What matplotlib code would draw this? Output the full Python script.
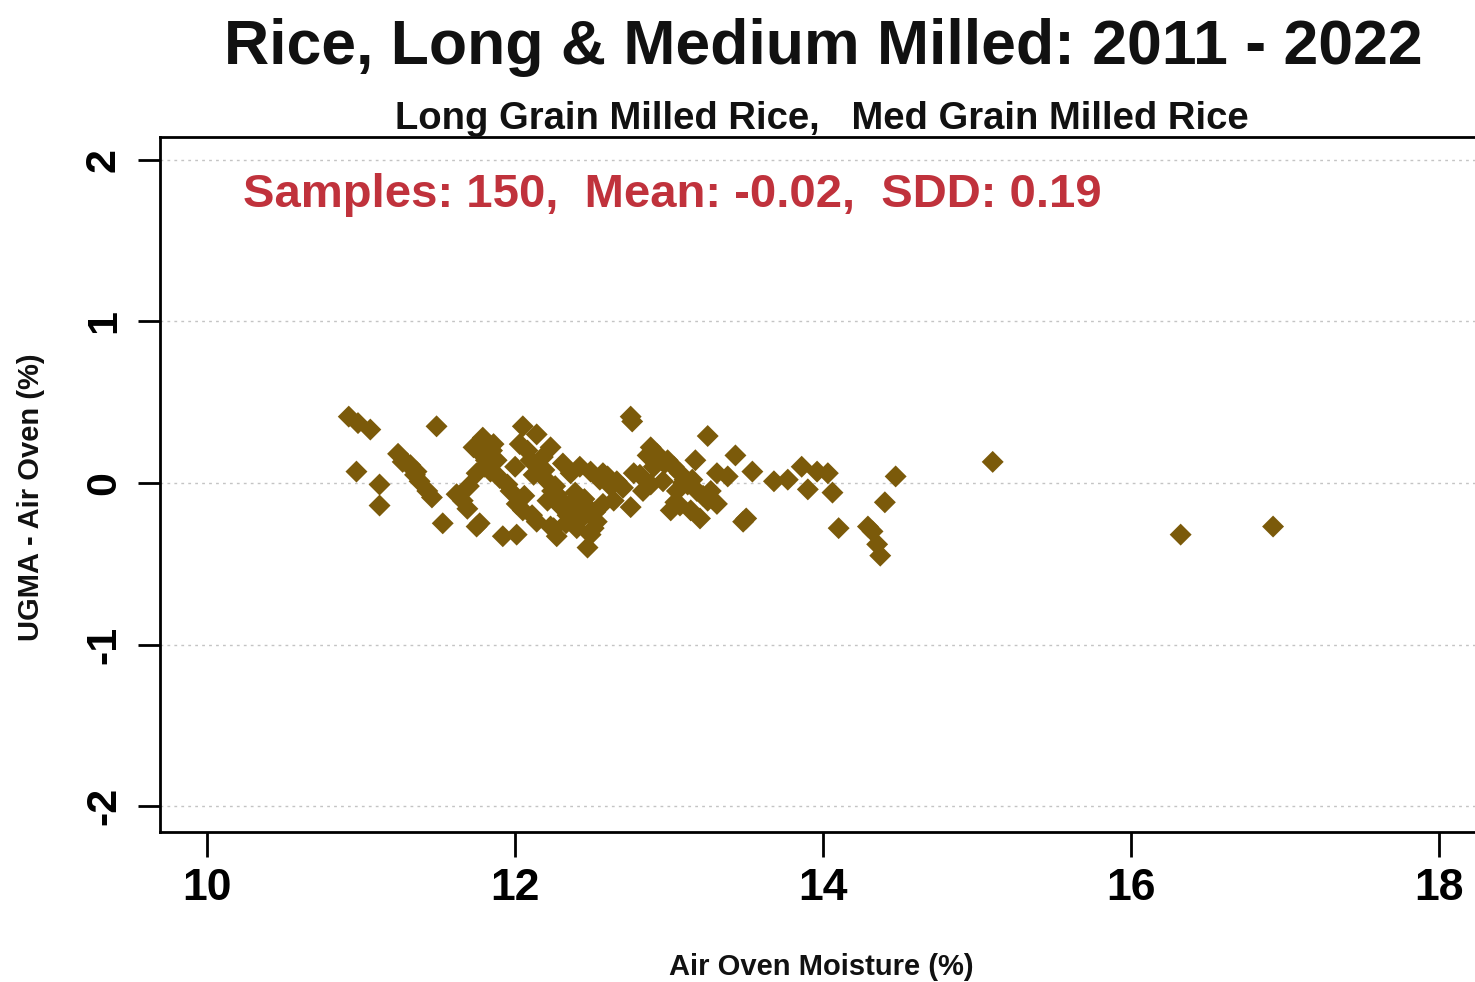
import numpy as np
import matplotlib.pyplot as plt

# Air oven moisture (%) and UGMA - air oven difference (%)
air_oven = [
    10.92, 10.98, 11.06, 11.49, 10.97, 11.12, 11.12, 11.24, 11.27, 11.32,
    11.36, 11.38, 11.43, 11.46, 11.62, 11.66, 11.69, 11.53, 11.75, 11.73,
    11.75, 11.79, 11.76, 11.82, 11.84, 11.88, 11.95, 11.97, 12.05, 12.14,
    12.03, 12.10, 12.18, 12.23, 12.31, 12.36, 12.42, 12.49, 12.57, 12.62,
    12.01, 12.05, 12.14, 12.23, 12.27, 12.21, 12.27, 12.36, 12.44, 12.53,
    12.49, 12.47, 11.77, 11.92, 12.01, 12.57, 12.64, 12.75, 12.76, 13.25,
    12.88, 12.86, 12.92, 12.99, 13.03, 13.07, 13.17, 12.77, 12.83, 12.88,
    12.96, 12.66, 12.75, 13.12, 13.18, 13.27, 13.31, 13.38, 13.25, 13.31,
    13.01, 13.07, 13.14, 13.20, 13.43, 13.54, 13.48, 13.50, 13.68, 13.77,
    13.86, 13.96, 14.03, 13.90, 14.06, 14.10, 14.29, 14.32, 14.35, 14.37,
    14.40, 14.47, 15.10, 16.32, 16.92,
    12.08, 12.12, 12.20, 12.26, 12.30, 12.38, 12.40, 12.45, 12.33, 11.85,
    11.80, 11.90, 12.55, 12.00, 13.05, 13.10, 12.90, 13.22, 12.70, 11.78,
    11.86, 12.16, 12.24, 12.34, 12.43, 12.51, 12.60, 12.81, 12.94, 13.15,
    11.30, 11.35, 11.70, 12.06, 12.19, 12.29, 12.39, 12.52, 12.97, 13.09,
    11.81, 12.11, 12.25, 12.46, 13.04,
]
ugma_diff = [
    0.41, 0.37, 0.33, 0.35, 0.07, -0.01, -0.14, 0.18, 0.13, 0.11,
    0.07, 0.01, -0.05, -0.09, -0.07, -0.11, -0.16, -0.25, -0.27, 0.22,
    0.06, 0.28, 0.22, 0.16, 0.07, 0.14, -0.01, -0.05, 0.35, 0.30,
    0.24, 0.14, 0.16, 0.22, 0.12, 0.06, 0.10, 0.07, 0.06, -0.02,
    -0.13, -0.17, -0.24, -0.27, -0.33, -0.11, -0.07, -0.13, -0.17, -0.24,
    -0.32, -0.40, -0.25, -0.33, -0.32, -0.13, -0.11, 0.41, 0.38, 0.29,
    0.22, 0.17, 0.18, 0.14, 0.10, 0.06, 0.14, 0.06, -0.05, -0.01,
    0.01, 0.01, -0.15, -0.01, -0.05, -0.05, 0.06, 0.04, -0.11, -0.13,
    -0.17, -0.14, -0.17, -0.22, 0.17, 0.07, -0.24, -0.22, 0.01, 0.02,
    0.10, 0.07, 0.06, -0.04, -0.06, -0.28, -0.27, -0.30, -0.38, -0.45,
    -0.12, 0.04, 0.13, -0.32, -0.27,
    0.20, 0.05, 0.02, -0.02, -0.15, -0.20, -0.28, -0.10, -0.25, 0.20,
    0.10, 0.03, 0.02, 0.10, -0.05, 0.02, 0.10, -0.08, -0.03, 0.18,
    0.24, 0.10, -0.05, -0.20, -0.22, -0.28, 0.04, 0.05, 0.15, 0.02,
    0.12, 0.05, -0.02, -0.08, 0.08, -0.10, -0.06, -0.18, 0.12, 0.00,
    0.14, -0.20, -0.28, -0.14, -0.12,
]

x_ticks = [10, 12, 14, 16, 18]
y_ticks = [-2, -1, 0, 1, 2]

title = "Rice, Long & Medium Milled: 2011 - 2022"
subtitle = "Long Grain Milled Rice,   Med Grain Milled Rice"
stats_text = "Samples: 150,  Mean: -0.02,  SDD: 0.19"

plt.rcParams['font.family'] = ['Liberation Sans', 'DejaVu Sans']
plt.rcParams['font.weight'] = 'bold'

fig = plt.figure(figsize=(14.75, 9.82), dpi=100)
fig.patch.set_facecolor('white')
ax = fig.add_axes([0.1085, 0.1527, 0.905, 0.7078])
ax.set_facecolor('white')

# horizontal dotted grid
for yv in y_ticks:
    ax.axhline(yv, color='#c4c4c4', linestyle=(0, (2, 3)), linewidth=1.0, zorder=0)

ax.scatter(air_oven, ugma_diff, marker='D', s=125, color='#7b5a0a',
           edgecolors='none', zorder=3)

ax.set_xlim(9.695, 18.36)
ax.set_ylim(-2.16, 2.14)
ax.set_xticks(x_ticks)
ax.set_yticks(y_ticks)
ax.set_xticklabels([str(v) for v in x_ticks], fontsize=32, fontweight='bold')
ax.set_yticklabels([str(v) for v in y_ticks], fontsize=31, fontweight='bold',
                   rotation=90, va='center')
ax.tick_params(axis='x', length=18, width=2, pad=8)
ax.tick_params(axis='y', length=16, width=2, pad=10)
ax.spines['right'].set_visible(False)
for side in ['left', 'top', 'bottom']:
    ax.spines[side].set_linewidth(2)

fig.text(0.558, 0.952, title, ha='center', va='center', fontsize=45,
         fontweight='bold', color='#111111')
fig.text(0.557, 0.879, subtitle, ha='center', va='center', fontsize=27.5,
         fontweight='bold', color='#111111')
fig.text(243 / 1475, 1 - 195 / 982, stats_text, ha='left', va='center',
         fontsize=34, fontweight='bold', color='#c0323c')
fig.text(0.557, 0.015, "Air Oven Moisture (%)", ha='center', va='center',
         fontsize=21, fontweight='bold', color='#111111')
fig.text(0.021, 0.494, "UGMA - Air Oven (%)", ha='center', va='center',
         fontsize=21, fontweight='bold', rotation=90, color='#111111')

plt.savefig('out.png', dpi=100)
